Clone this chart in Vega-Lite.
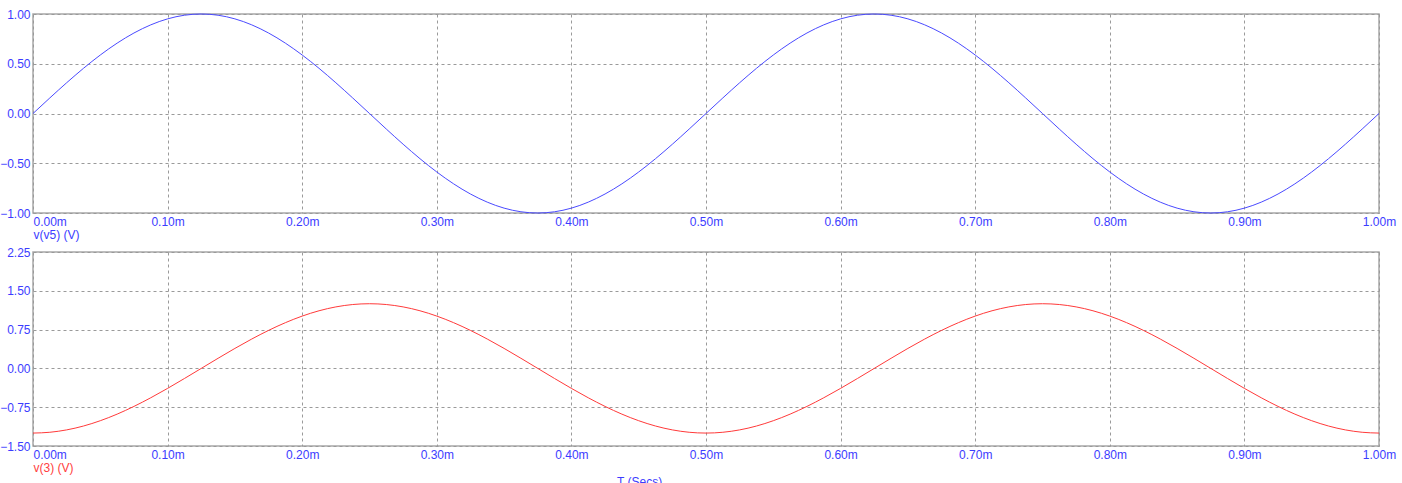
{
  "$schema": "https://vega.github.io/schema/vega-lite/v6.json",
  "padding": {"left": -2, "top": 7, "right": 0, "bottom": 0},
  "background": "white",
  "data": {"values": [
    {"t":0,"a":0,"b":-1.25},
    {"t":0.0125,"a":0.1564,"b":-1.2346},
    {"t":0.025,"a":0.309,"b":-1.1889},
    {"t":0.0375,"a":0.454,"b":-1.1138},
    {"t":0.05,"a":0.5878,"b":-1.0113},
    {"t":0.0625,"a":0.7071,"b":-0.8839},
    {"t":0.075,"a":0.809,"b":-0.7347},
    {"t":0.0875,"a":0.891,"b":-0.5675},
    {"t":0.1,"a":0.9511,"b":-0.3863},
    {"t":0.1125,"a":0.9877,"b":-0.1955},
    {"t":0.125,"a":1,"b":0},
    {"t":0.1375,"a":0.9877,"b":0.1955},
    {"t":0.15,"a":0.9511,"b":0.3863},
    {"t":0.1625,"a":0.891,"b":0.5675},
    {"t":0.175,"a":0.809,"b":0.7347},
    {"t":0.1875,"a":0.7071,"b":0.8839},
    {"t":0.2,"a":0.5878,"b":1.0113},
    {"t":0.2125,"a":0.454,"b":1.1138},
    {"t":0.225,"a":0.309,"b":1.1889},
    {"t":0.2375,"a":0.1564,"b":1.2346},
    {"t":0.25,"a":0,"b":1.25},
    {"t":0.2625,"a":-0.1564,"b":1.2346},
    {"t":0.275,"a":-0.309,"b":1.1889},
    {"t":0.2875,"a":-0.454,"b":1.1138},
    {"t":0.3,"a":-0.5878,"b":1.0113},
    {"t":0.3125,"a":-0.7071,"b":0.8839},
    {"t":0.325,"a":-0.809,"b":0.7347},
    {"t":0.3375,"a":-0.891,"b":0.5675},
    {"t":0.35,"a":-0.9511,"b":0.3863},
    {"t":0.3625,"a":-0.9877,"b":0.1955},
    {"t":0.375,"a":-1,"b":0},
    {"t":0.3875,"a":-0.9877,"b":-0.1955},
    {"t":0.4,"a":-0.9511,"b":-0.3863},
    {"t":0.4125,"a":-0.891,"b":-0.5675},
    {"t":0.425,"a":-0.809,"b":-0.7347},
    {"t":0.4375,"a":-0.7071,"b":-0.8839},
    {"t":0.45,"a":-0.5878,"b":-1.0113},
    {"t":0.4625,"a":-0.454,"b":-1.1138},
    {"t":0.475,"a":-0.309,"b":-1.1889},
    {"t":0.4875,"a":-0.1564,"b":-1.2346},
    {"t":0.5,"a":0,"b":-1.25},
    {"t":0.5125,"a":0.1564,"b":-1.2346},
    {"t":0.525,"a":0.309,"b":-1.1889},
    {"t":0.5375,"a":0.454,"b":-1.1138},
    {"t":0.55,"a":0.5878,"b":-1.0113},
    {"t":0.5625,"a":0.7071,"b":-0.8839},
    {"t":0.575,"a":0.809,"b":-0.7347},
    {"t":0.5875,"a":0.891,"b":-0.5675},
    {"t":0.6,"a":0.9511,"b":-0.3863},
    {"t":0.6125,"a":0.9877,"b":-0.1955},
    {"t":0.625,"a":1,"b":0},
    {"t":0.6375,"a":0.9877,"b":0.1955},
    {"t":0.65,"a":0.9511,"b":0.3863},
    {"t":0.6625,"a":0.891,"b":0.5675},
    {"t":0.675,"a":0.809,"b":0.7347},
    {"t":0.6875,"a":0.7071,"b":0.8839},
    {"t":0.7,"a":0.5878,"b":1.0113},
    {"t":0.7125,"a":0.454,"b":1.1138},
    {"t":0.725,"a":0.309,"b":1.1889},
    {"t":0.7375,"a":0.1564,"b":1.2346},
    {"t":0.75,"a":0,"b":1.25},
    {"t":0.7625,"a":-0.1564,"b":1.2346},
    {"t":0.775,"a":-0.309,"b":1.1889},
    {"t":0.7875,"a":-0.454,"b":1.1138},
    {"t":0.8,"a":-0.5878,"b":1.0113},
    {"t":0.8125,"a":-0.7071,"b":0.8839},
    {"t":0.825,"a":-0.809,"b":0.7347},
    {"t":0.8375,"a":-0.891,"b":0.5675},
    {"t":0.85,"a":-0.9511,"b":0.3863},
    {"t":0.8625,"a":-0.9877,"b":0.1955},
    {"t":0.875,"a":-1,"b":0},
    {"t":0.8875,"a":-0.9877,"b":-0.1955},
    {"t":0.9,"a":-0.9511,"b":-0.3863},
    {"t":0.9125,"a":-0.891,"b":-0.5675},
    {"t":0.925,"a":-0.809,"b":-0.7347},
    {"t":0.9375,"a":-0.7071,"b":-0.8839},
    {"t":0.95,"a":-0.5878,"b":-1.0113},
    {"t":0.9625,"a":-0.454,"b":-1.1138},
    {"t":0.975,"a":-0.309,"b":-1.1889},
    {"t":0.9875,"a":-0.1564,"b":-1.2346},
    {"t":1,"a":0,"b":-1.25}
  ]},
  "config": {
    "font": "Liberation Sans",
    "view": {"stroke": "#a8a8a8", "strokeWidth": 1.5},
    "axis": {
      "domain": false,
      "ticks": false,
      "grid": true,
      "gridColor": "#9a9a9a",
      "gridDash": [3, 3],
      "gridWidth": 1,
      "gridOpacity": 1,
      "labelFont": "Liberation Sans",
      "labelFontSize": 12,
      "labelColor": "#3c3cff",
      "titleFont": "Liberation Sans",
      "titleFontSize": 12,
      "titleFontWeight": "normal"
    }
  },
  "spacing": 39,
  "bounds": "flush",
  "title": {"text": "T (Secs)", "orient": "bottom", "anchor": "middle", "dx": -58, "offset": 3, "color": "#3c3cff", "fontSize": 12, "fontWeight": "normal", "font": "Liberation Sans"},
  "vconcat": [
    {
      "width": 1346,
      "height": 199,
      "mark": {"type": "line", "color": "#4a4aff", "strokeWidth": 1, "interpolate": "monotone"},
      "encoding": {
        "x": {
          "field": "t", "type": "quantitative",
          "scale": {"domain": [0, 1], "nice": false, "zero": false},
          "axis": {
            "values": [0, 0.1, 0.2, 0.3, 0.4, 0.5, 0.6, 0.7, 0.8, 0.9, 1],
            "labelExpr": "format(datum.value, '.2f') + 'm'",
            "labelAlign": {"condition": {"test": "datum.value == 0", "value": "left"}, "value": "center"},
            "labelPadding": 3,
            "labelFlush": false,
            "title": "v(v5) (V)",
            "titleAnchor": "start",
            "titleAlign": "left",
            "titleColor": "#3c3cff",
            "titlePadding": 2
          }
        },
        "y": {
          "field": "a", "type": "quantitative",
          "scale": {"domain": [-1, 1], "nice": false},
          "axis": {
            "values": [-1, -0.5, 0, 0.5, 1],
            "format": ".2f",
            "labelPadding": 3,
            "labelFlush": false,
            "title": null
          }
        }
      }
    },
    {
      "width": 1346,
      "height": 194,
      "mark": {"type": "line", "color": "#ff3a3a", "strokeWidth": 1, "interpolate": "monotone"},
      "encoding": {
        "x": {
          "field": "t", "type": "quantitative",
          "scale": {"domain": [0, 1], "nice": false, "zero": false},
          "axis": {
            "values": [0, 0.1, 0.2, 0.3, 0.4, 0.5, 0.6, 0.7, 0.8, 0.9, 1],
            "labelExpr": "format(datum.value, '.2f') + 'm'",
            "labelAlign": {"condition": {"test": "datum.value == 0", "value": "left"}, "value": "center"},
            "labelPadding": 3,
            "labelFlush": false,
            "title": "v(3) (V)",
            "titleAnchor": "start",
            "titleAlign": "left",
            "titleColor": "#ff4040",
            "titlePadding": 2
          }
        },
        "y": {
          "field": "b", "type": "quantitative",
          "scale": {"domain": [-1.5, 2.25], "nice": false},
          "axis": {
            "values": [-1.5, -0.75, 0, 0.75, 1.5, 2.25],
            "format": ".2f",
            "labelPadding": 3,
            "labelFlush": false,
            "title": null
          }
        }
      }
    }
  ]
}
